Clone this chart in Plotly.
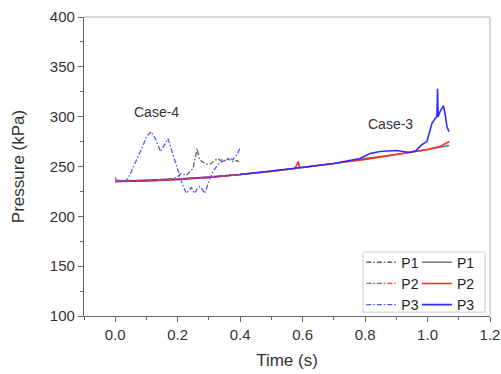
import plotly.graph_objects as go

# ---- Case-4 (dash-dot) ----
c4_p1_t = [0, 0.05, 0.1, 0.15, 0.19, 0.2, 0.212, 0.227, 0.238, 0.249, 0.256, 0.262, 0.27, 0.28, 0.287,
           0.297, 0.308, 0.318, 0.329, 0.337, 0.345, 0.353, 0.361, 0.369, 0.377, 0.387, 0.397]
c4_p1_v = [236, 236, 236, 237, 238, 240, 243, 241, 245, 248, 258, 268, 257, 255, 253,
           252, 253, 256, 258, 256, 257, 255, 258, 256, 255, 256, 255]

c4_p2_t = [0, 0.1, 0.2, 0.3, 0.4]
c4_p2_v = [235, 236, 237.5, 239.5, 242]

c4_p3_t = [0, 0.005, 0.02, 0.035, 0.046, 0.058, 0.067, 0.078, 0.089, 0.1, 0.115, 0.13, 0.145, 0.158,
           0.169, 0.185, 0.2, 0.206, 0.215, 0.222, 0.228, 0.244, 0.254, 0.265, 0.272, 0.287, 0.295,
           0.303, 0.315, 0.329, 0.342, 0.356, 0.367, 0.377, 0.39, 0.399]
c4_p3_v = [239, 236, 235, 236, 241, 249, 255, 262, 271, 280, 285, 277, 265, 272,
           278, 262, 247, 240, 232, 227, 223, 229, 223, 229, 230, 223, 230,
           238, 246, 252, 255, 257, 258, 257, 262, 268]

# ---- Case-3 (solid) ----
c3_p1_t = [0, 0.1, 0.2, 0.3, 0.4, 0.5, 0.6, 0.7, 0.8, 0.9, 1.0, 1.05, 1.07]
c3_p1_v = [235, 235.5, 237, 239, 242, 245, 249, 253, 258, 262, 267, 270, 271]

c3_p2_t = [0, 0.1, 0.2, 0.3, 0.4, 0.5, 0.575, 0.582, 0.586, 0.59, 0.6, 0.7, 0.8, 0.9, 1.0, 1.04, 1.07]
c3_p2_v = [235, 235.5, 237, 239, 242, 245, 248, 252, 255, 249, 249, 253, 257, 262, 267, 270, 275]

c3_p3_t = [0, 0.1, 0.2, 0.3, 0.4, 0.5, 0.6, 0.7, 0.75, 0.784, 0.816, 0.848, 0.9, 0.944, 0.963,
           0.982, 0.998, 1.014, 1.024, 1.03, 1.032, 1.034, 1.04, 1.051, 1.056, 1.062, 1.069]
c3_p3_v = [235, 236, 237.5, 239.5, 242, 245.5, 249, 253, 256, 258, 263, 265, 266, 264, 266,
           272, 275, 293, 298, 300, 328, 300, 305, 311, 303, 290, 285]

x_ticks = [0.0, 0.2, 0.4, 0.6, 0.8, 1.0, 1.2]
y_ticks = [100, 150, 200, 250, 300, 350, 400]

GRAY = "rgb(120,120,120)"
GRAY_D = "rgb(95,95,95)"
RED = "rgb(255,40,40)"
RED_L = "rgb(255,60,60)"
BLUE = "rgb(45,45,255)"
BLUE_L = "rgb(85,85,255)"
FONT = "Liberation Sans, Arial, sans-serif"
DASHDOT = "5px,2px,1.5px,2px"

fig = go.Figure()

series = [
    ("P1", c4_p1_t, c4_p1_v, c3_p1_t, c3_p1_v, GRAY, GRAY_D),
    ("P2", c4_p2_t, c4_p2_v, c3_p2_t, c3_p2_v, RED, RED_L),
    ("P3", c4_p3_t, c4_p3_v, c3_p3_t, c3_p3_v, BLUE, BLUE_L),
]
for name, t4, v4, t3, v3, col, col4 in series:
    fig.add_trace(go.Scatter(x=t3, y=v3, mode="lines", name=name,
                             line=dict(color=col, width=1.6), legend="legend2"))
for name, t4, v4, t3, v3, col, col4 in series:
    fig.add_trace(go.Scatter(x=t4, y=v4, mode="lines", name=name,
                             line=dict(color=col4, width=1.3, dash=DASHDOT), legend="legend"))

fig.add_annotation(x=0.133, y=305, text="Case-4", showarrow=False,
                   font=dict(family=FONT, size=14, color="#333"))
fig.add_annotation(x=0.88, y=293, text="Case-3", showarrow=False,
                   font=dict(family=FONT, size=14, color="#333"))

# top and right frame lines (light gray)
fig.add_shape(type="line", xref="paper", yref="paper", x0=0, x1=1, y0=1, y1=1,
              line=dict(color="#cccccc", width=1.5))
fig.add_shape(type="line", xref="paper", yref="paper", x0=1, x1=1, y0=0, y1=1,
              line=dict(color="#cccccc", width=1.5))
# legend box
fig.add_shape(type="rect", xref="paper", yref="paper", x0=0.687, x1=0.988, y0=0.013, y1=0.214,
              line=dict(color="#cccccc", width=1), fillcolor="white", layer="below")

leg_font = dict(family=FONT, size=14, color="#222")
fig.update_layout(
    width=501, height=374,
    margin=dict(l=84, r=11, t=17, b=58),
    paper_bgcolor="white", plot_bgcolor="white",
    font=dict(family=FONT, size=12, color="#333"),
    legend=dict(x=0.683, y=0.232, xanchor="left", yanchor="top", bgcolor="rgba(0,0,0,0)",
                font=leg_font, traceorder="normal", tracegroupgap=0, itemwidth=30),
    legend2=dict(x=0.82, y=0.232, xanchor="left", yanchor="top", bgcolor="rgba(0,0,0,0)",
                 font=leg_font, traceorder="normal", tracegroupgap=0, itemwidth=30),
    xaxis=dict(range=[-0.1, 1.2], tickvals=x_ticks, ticktext=[f"{v:.1f}" for v in x_ticks],
               automargin=False,
               showgrid=False, zeroline=False, showline=True, linecolor="#666", linewidth=1.2,
               ticks="outside", ticklen=5, tickcolor="#666",
               minor=dict(dtick=0.1, tick0=0, ticks="outside", ticklen=3, tickcolor="#666"),
               tickfont=dict(family=FONT, size=15, color="#333"),
               title=dict(text="Time (s)", font=dict(family=FONT, size=17, color="#333"), standoff=12)),
    yaxis=dict(range=[100, 400], tickvals=y_ticks, showgrid=False, zeroline=False,
               automargin=False,
               showline=True, linecolor="#666", linewidth=1.2,
               ticks="outside", ticklen=5, tickcolor="#666",
               minor=dict(dtick=25, tick0=100, ticks="outside", ticklen=3, tickcolor="#666"),
               tickfont=dict(family=FONT, size=15, color="#333"),
               title=dict(text="Pressure (kPa)", font=dict(family=FONT, size=17, color="#333"), standoff=20)),
)

fig.write_html("out.html", config={"displayModeBar": False},
               post_script="document.body.style.margin='0';document.body.style.overflow='hidden';")
